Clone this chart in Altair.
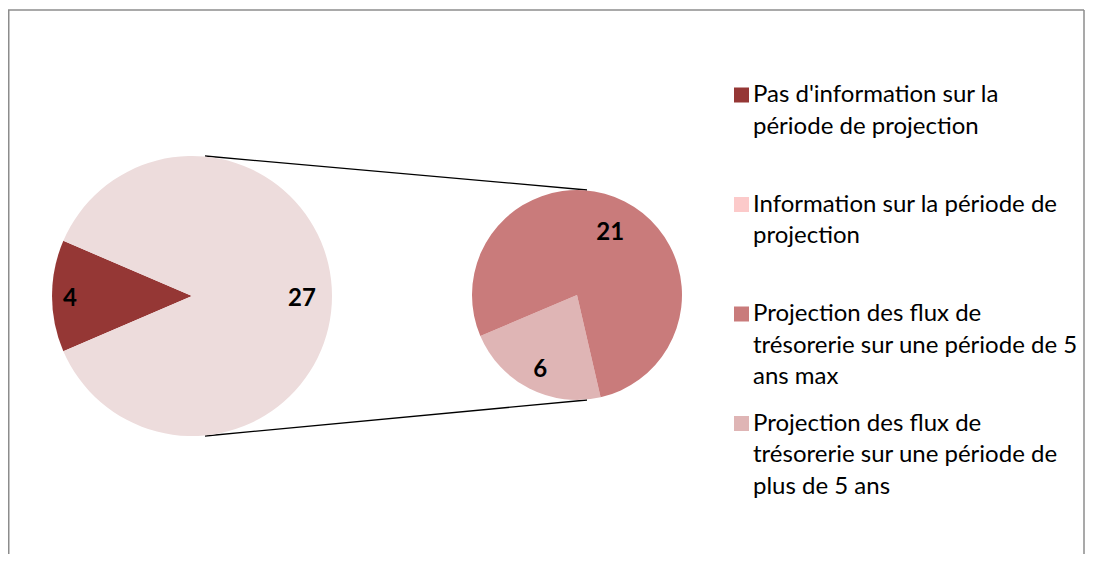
import math
import altair as alt
import pandas as pd

# ---- data ----
categories = [
    "Pas d'information sur la période de projection",
    "Information sur la période de projection",
    "Projection des flux de trésorerie sur une période de 5 ans max",
    "Projection des flux de trésorerie sur une période de plus de 5 ans",
]
legend_lines = [
    ["Pas d'information sur la", "période de projection"],
    ["Information sur la période de", "projection"],
    ["Projection des flux de", "trésorerie sur une période de 5", "ans max"],
    ["Projection des flux de", "trésorerie sur une période de", "plus de 5 ans"],
]
main_categories = [categories[0], categories[1]]
main_values = [4, 27]
sub_categories = [categories[3], categories[2]]
sub_values = [6, 21]
slice_colors = ["#953735", "#EDDCDC", "#C97B7B", "#DFB5B5"]
legend_colors = ["#953735", "#FCCACA", "#C97B7B", "#DFB5B5"]

# ---- layout ----
W, H = 1077, 544
C1X, C1Y, R1 = 184, 286, 140
C2X, C2Y, R2 = 569, 285, 105
FONT = "Lato"

main_df = pd.DataFrame({"cat": main_categories, "value": main_values, "ord": [0, 1]})
sub_df = pd.DataFrame({"cat": sub_categories, "value": sub_values, "ord": [0, 1]})

main_start = math.radians(270 - main_values[0] / sum(main_values) * 180)
sub_start = math.radians(167.0)

color_scale = alt.Scale(domain=categories, range=slice_colors)


def pie(df, total, cx, cy, r, start, lab_r):
    tscale = alt.Scale(domain=[0, total], range=[start, start + 2 * math.pi])
    base = alt.Chart(df).transform_window(
        cum="sum(value)", sort=[alt.SortField("ord")]
    ).transform_calculate(
        t0="datum.cum - datum.value", mid="datum.cum - datum.value / 2"
    )
    arcs = base.mark_arc(radius=r).encode(
        theta=alt.Theta("t0:Q", scale=tscale), theta2="cum:Q",
        x=alt.value(cx), y=alt.value(cy),
        color=alt.Color("cat:N", scale=color_scale, legend=None))
    layers = [arcs]
    for k, rr in enumerate(lab_r):
        layers.append(
            base.transform_filter(alt.datum.ord == k).mark_text(
                radius=rr, font=FONT, fontSize=24, fontWeight="bold", color="black",
                align="center", baseline="middle", dy=3).encode(
                theta=alt.Theta("mid:Q", scale=tscale),
                x=alt.value(cx), y=alt.value(cy),
                text="value:Q")
        )
    return layers


pie1 = pie(main_df, sum(main_values), C1X, C1Y, R1, main_start, (122, 110))
pie2 = pie(sub_df, sum(sub_values), C2X, C2Y, R2, sub_start, (81, 73))

one = pd.DataFrame({"k": [0]})


def seg(x1, y1, x2, y2, color="black", sw=1.3):
    return alt.Chart(one).mark_rule(color=color, strokeWidth=sw).encode(
        x=alt.value(x1), x2=alt.value(x2), y=alt.value(y1), y2=alt.value(y2))


conn1 = seg(C1X + 13, C1Y - R1, C2X + 10, C2Y - R2)
conn2 = seg(C1X + 13, C1Y + R1, C2X + 10, C2Y + R2)
border_top = seg(0, 0, W - 1, 0, "#8c8c8c", 1.5)
border_left = seg(0.75, 0, 0.75, H + 2, "#8c8c8c", 1.5)
border_right = seg(W - 1, 0, W - 1, H + 2, "#8c8c8c", 1.5)

rows = []
for i, lines in enumerate(legend_lines):
    for j, t in enumerate(lines):
        rows.append({"item": i, "line": j, "text": t})
leg_text_df = pd.DataFrame(rows)
leg_sym_df = pd.DataFrame({"item": list(range(4)), "cat": categories})

leg_text = alt.Chart(leg_text_df).transform_calculate(
    py="85 + datum.item * 109.5 + datum.line * 31.7"
).mark_text(font=FONT, fontSize=24, align="left", baseline="middle", color="#000000").encode(
    x=alt.value(745), y=alt.Y("py:Q", scale=None), text="text:N"
)
leg_sym = alt.Chart(leg_sym_df).transform_calculate(
    py="85 + datum.item * 109.5"
).mark_square(size=225, opacity=1).encode(
    x=alt.value(733.5), y=alt.Y("py:Q", scale=None),
    color=alt.Color("cat:N", scale=alt.Scale(domain=categories, range=legend_colors), legend=None),
)

chart = alt.layer(
    border_top, border_left, border_right, conn1, conn2,
    *pie1, *pie2, leg_sym, leg_text
).resolve_scale(
    color="independent", theta="independent"
).properties(
    width=W, height=H, autosize="none",
    padding={"left": 0, "top": 2, "right": 0, "bottom": 0},
).configure_view(strokeWidth=0)

chart.save("out.html", embed_options={"renderer": "svg", "actions": False})
